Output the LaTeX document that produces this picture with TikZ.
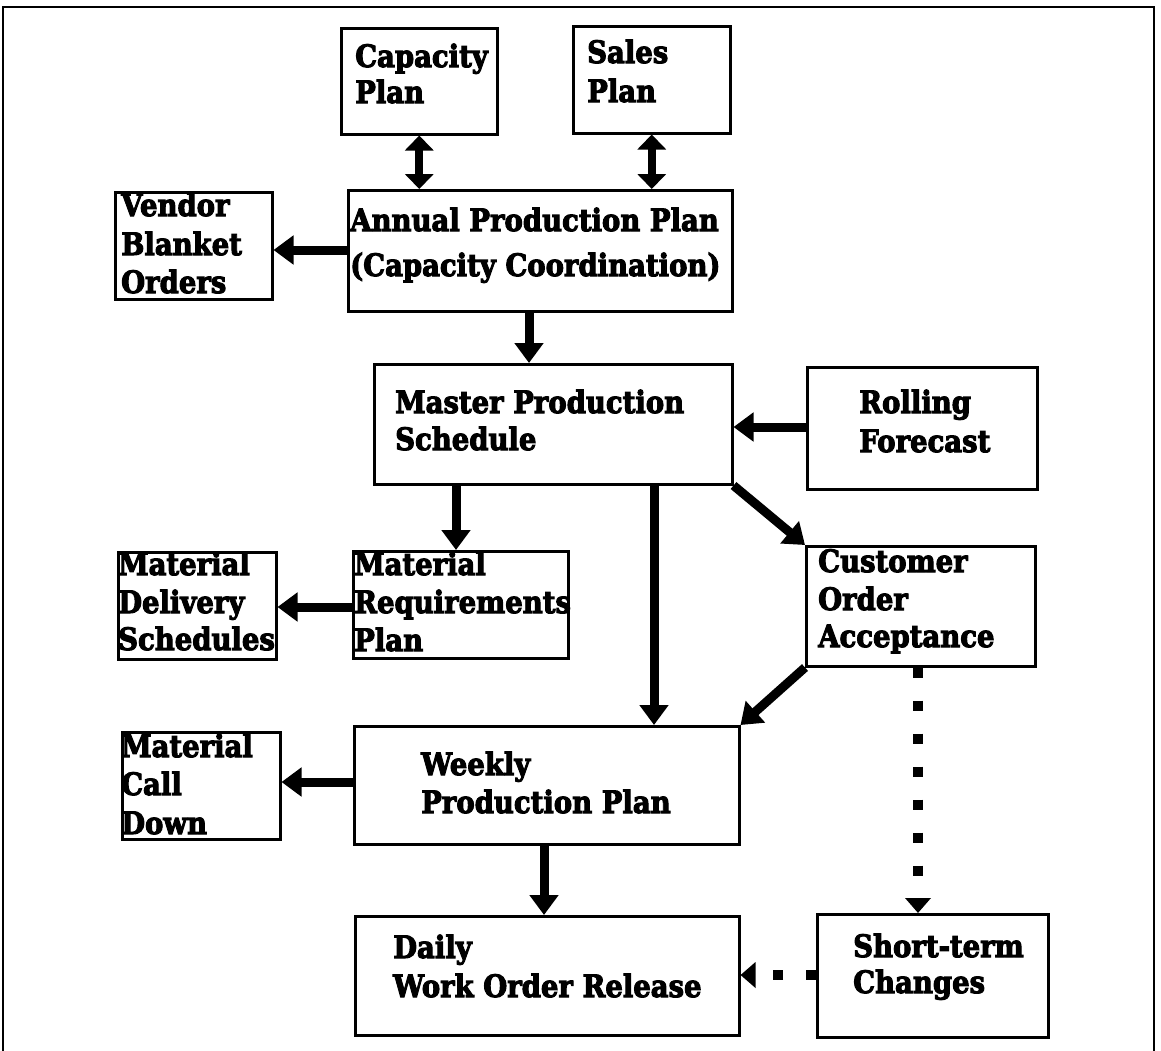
\documentclass[tikz,border=0pt]{standalone}
\usepackage{fontspec}
\setmainfont{DejaVu Serif}[BoldFeatures={FakeBold=3.5}]
\usetikzlibrary{arrows.meta}
\newcommand\txtline[4]{\node[txt] (#1) at (#2,#3) {\scalebox{1}[1.12]{#4}};}
\begin{document}
\begin{tikzpicture}[x=1pt,y=-1pt,
  box/.style={draw, line width=2.5pt, inner sep=0pt, anchor=north west},
  txt/.style={inner sep=0pt, anchor=base west, font=\fontsize{27.5}{32}\selectfont\bfseries},
  arr/.style={line width=9pt, -{Triangle[length=20pt,width=28pt]}},
  darr/.style={line width=8pt, {Triangle[length=15pt,width=28pt]}-{Triangle[length=15pt,width=28pt]}},
  dotarr/.style={line width=10pt, dash pattern=on 10pt off 23pt, -{Triangle[length=15pt,width=25pt]}},
  frame/.style={line width=2.5pt}]
\clip (0,0) rectangle (1161,1050);
\fill[white] (0,0) rectangle (1161,1050);
\draw[frame] (3,1060) -- (3,7) -- (1154,7) -- (1154,1060);

% boxes
\node[box, minimum width=156pt, minimum height=106pt] (cap) at (340,27) {};
\node[box, minimum width=157pt, minimum height=107pt] (sales) at (572,25) {};
\node[box, minimum width=157pt, minimum height=107pt] (vendor) at (114,191) {};
\node[box, minimum width=384pt, minimum height=121pt] (annual) at (347,189) {};
\node[box, minimum width=358pt, minimum height=120pt] (mps) at (373,363) {};
\node[box, minimum width=230pt, minimum height=122pt] (rolling) at (806,366) {};
\node[box, minimum width=158pt, minimum height=107pt] (mds) at (117,551) {};
\node[box, minimum width=215pt, minimum height=107pt] (mrp) at (352,550) {};
\node[box, minimum width=229pt, minimum height=120pt] (cust) at (805,545) {};
\node[box, minimum width=158pt, minimum height=107pt] (calldown) at (121,731) {};
\node[box, minimum width=385pt, minimum height=118pt] (weekly) at (353,725) {};
\node[box, minimum width=384pt, minimum height=119pt] (daily) at (354,915) {};
\node[box, minimum width=231pt, minimum height=123pt] (short) at (816,913) {};

% texts
\txtline{capA}{355}{67}{Capacity}
\txtline{capB}{355}{103}{Plan}
\txtline{salesA}{587}{63}{Sales}
\txtline{salesB}{587}{102}{Plan}
\txtline{vendA}{121}{216}{Vendor}
\txtline{vendB}{121}{255}{Blanket}
\txtline{vendC}{121}{293}{Orders}
\txtline{annA}{350}{231}{Annual Production Plan}
\txtline{annB}{350}{276}{(Capacity Coordination)}
\txtline{mpsA}{395}{413}{Master Production}
\txtline{mpsB}{395}{450}{Schedule}
\txtline{rollA}{859}{413}{Rolling}
\txtline{rollB}{859}{452}{Forecast}
\txtline{mdsA}{118}{575}{Material}
\txtline{mdsB}{118}{613}{Delivery}
\txtline{mdsC}{118}{650}{Schedules}
\txtline{mrpA}{354}{575}{Material}
\txtline{mrpB}{354}{613}{Requirements}
\txtline{mrpC}{354}{651}{Plan}
\txtline{custA}{818}{572}{Customer}
\txtline{custB}{818}{610}{Order}
\txtline{custC}{818}{647}{Acceptance}
\txtline{cdA}{121}{757}{Material}
\txtline{cdB}{121}{795}{Call}
\txtline{cdC}{121}{834}{Down}
\txtline{wkA}{421}{775}{Weekly}
\txtline{wkB}{421}{813}{Production Plan}
\txtline{dlA}{393}{958}{Daily}
\txtline{dlB}{393}{997}{Work Order Release}
\txtline{stA}{853}{957}{Short-term}
\txtline{stB}{853}{993}{Changes}

% helper coordinates
\coordinate (xa) at (529,0);
\coordinate (ya) at (0,250);
\coordinate (yr) at (0,427);
\coordinate (xm) at (456,0);
\coordinate (xw) at (654,0);
\coordinate (ymd) at (0,607);
\coordinate (ycd) at (0,782);
\coordinate (xd) at (544,0);
\coordinate (xs) at (918,0);
\coordinate (ys) at (0,975);

% connectors
\draw[darr] (cap.south) -- (cap.south |- annual.north);
\draw[darr] (sales.south) -- (sales.south |- annual.north);
\draw[arr] (annual.west |- ya) -- (vendor.east |- ya);
\draw[arr] (annual.south -| xa) -- (mps.north -| xa);
\draw[arr] (rolling.west |- yr) -- (mps.east |- yr);
\draw[arr] (mps.south -| xm) -- (mrp.north -| xm);
\draw[arr] (mps.south -| xw) -- (weekly.north -| xw);
\draw[arr] (mps.south east) -- (cust.north west);
\draw[arr] (cust.south west) -- (weekly.north east);
\draw[arr] (mrp.west |- ymd) -- (mds.east |- ymd);
\draw[arr] (weekly.west |- ycd) -- (calldown.east |- ycd);
\draw[arr] (weekly.south -| xd) -- (daily.north -| xd);
\draw[dotarr] (cust.south -| xs) -- (short.north -| xs);
\draw[dotarr] (short.west |- ys) -- (daily.east |- ys);
\end{tikzpicture}
\end{document}
